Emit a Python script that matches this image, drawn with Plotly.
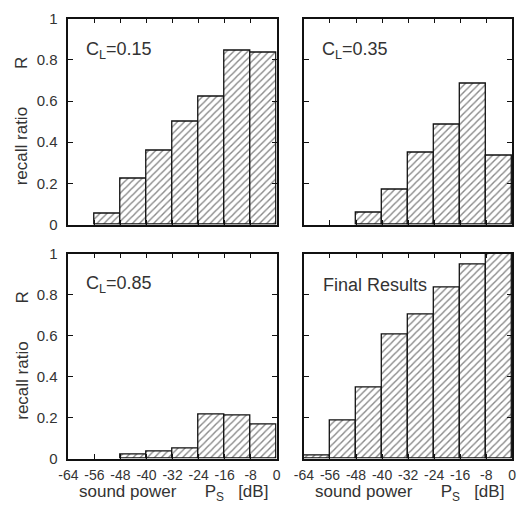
import plotly.graph_objects as go

# ---- data ----
bin_width = 8
bin_centers = [-60, -52, -44, -36, -28, -20, -12, -4]
x_tick_vals = [-64, -56, -48, -40, -32, -24, -16, -8, 0]
x_tick_text = ["-64", "-56", "-48", "-40", "-32", "-24", "-16", "-8", "0"]
y_tick_vals = [0, 0.2, 0.4, 0.6, 0.8, 1.0]
y_tick_text = ["0", "0.2", "0.4", "0.6", "0.8", "1"]

r_cl015 = [0.0, 0.053, 0.225, 0.36, 0.499, 0.622, 0.843, 0.835]
r_cl035 = [0.0, 0.0, 0.06, 0.168, 0.348, 0.487, 0.684, 0.334]
r_cl085 = [0.0, 0.0, 0.019, 0.035, 0.049, 0.216, 0.208, 0.165]
r_final = [0.016, 0.184, 0.347, 0.603, 0.70, 0.836, 0.947, 0.998]

panel_labels = ["C<sub>L</sub>=0.15", "C<sub>L</sub>=0.35", "C<sub>L</sub>=0.85", "Final Results"]
series = [r_cl015, r_cl035, r_cl085, r_final]

W, H = 525, 512
FONT = "Liberation Sans, Arial, sans-serif"
TXT = "#333333"

# panel pixel boxes (left, right, top, bottom)
boxes = [(60, 274, 10, 223), (302, 516, 10, 223), (60, 274, 253, 465), (302, 516, 253, 465)]
label_pos = [(76, 43), (318, 43), (76, 285), (320, 285)]

fig = go.Figure()
layout = dict(
    width=W, height=H, margin=dict(l=0, r=0, t=0, b=0),
    paper_bgcolor="white", plot_bgcolor="white", showlegend=False,
    bargap=0, font=dict(family=FONT, color=TXT, size=14),
)

annotations = []
for i, (vals, lab, box, lp) in enumerate(zip(series, panel_labels, boxes, label_pos)):
    n = i + 1
    xa = "x" if n == 1 else f"x{n}"
    ya = "y" if n == 1 else f"y{n}"
    yv = [v if v > 0 else None for v in vals]  # empty bins draw no bar
    fig.add_trace(go.Bar(
        x=bin_centers, y=yv, width=[bin_width] * len(bin_centers),
        xaxis=xa, yaxis=ya,
        marker=dict(color="white", line=dict(color="#111", width=1.3),
                    pattern=dict(shape="/", fgcolor="#111", bgcolor="white",
                                 size=5, solidity=0.28)),
    ))
    l, r, t, b = box
    bottom_row = i >= 2
    left_col = i % 2 == 0
    xkey = "xaxis" if n == 1 else f"xaxis{n}"
    ykey = "yaxis" if n == 1 else f"yaxis{n}"
    layout[xkey] = dict(
        domain=[l / W, r / W], range=[-64, 0], anchor=ya,
        tickvals=x_tick_vals, ticktext=x_tick_text,
        showticklabels=bottom_row, ticks="inside", ticklen=5, tickcolor="#111",
        tickwidth=1.2, showline=True, linecolor="#111", linewidth=1.5, mirror="allticks",
        showgrid=False, zeroline=False, tickfont=dict(size=14, color=TXT),
        ticklabelstandoff=3,
    )
    layout[ykey] = dict(
        domain=[1 - b / H, 1 - t / H], range=[0, 1], anchor=xa,
        tickvals=y_tick_vals, ticktext=y_tick_text,
        showticklabels=left_col, ticks="inside", ticklen=5, tickcolor="#111",
        tickwidth=1.2, showline=True, linecolor="#111", linewidth=1.5, mirror="allticks",
        showgrid=False, zeroline=False, tickfont=dict(size=15, color=TXT),
        ticklabelstandoff=6,
    )
    # panel label
    annotations.append(dict(
        text=lab, xref="paper", yref="paper",
        x=lp[0] / W, y=1 - lp[1] / H, xanchor="left", yanchor="middle",
        showarrow=False, font=dict(size=18, color=TXT, family=FONT),
    ))
    if left_col:
        annotations.append(dict(
            text="recall ratio" + "&nbsp;" * 8 + "R", xref="paper", yref="paper",
            x=12 / W, y=1 - ((t + b) / 2) / H, xanchor="center", yanchor="middle",
            textangle=-90, showarrow=False, font=dict(size=17, color=TXT, family=FONT),
        ))
    if bottom_row:
        annotations.append(dict(
            text="sound power" + "&nbsp;" * 6 + "P<sub>S</sub>" + "&nbsp;" * 3 + "[dB]",
            xref="paper", yref="paper",
            x=((l + r) / 2 + 1) / W, y=1 - 501 / H, xanchor="center", yanchor="middle",
            showarrow=False, font=dict(size=17, color=TXT, family=FONT),
        ))

layout["annotations"] = annotations
fig.update_layout(**layout)
fig.write_html("out.html")
